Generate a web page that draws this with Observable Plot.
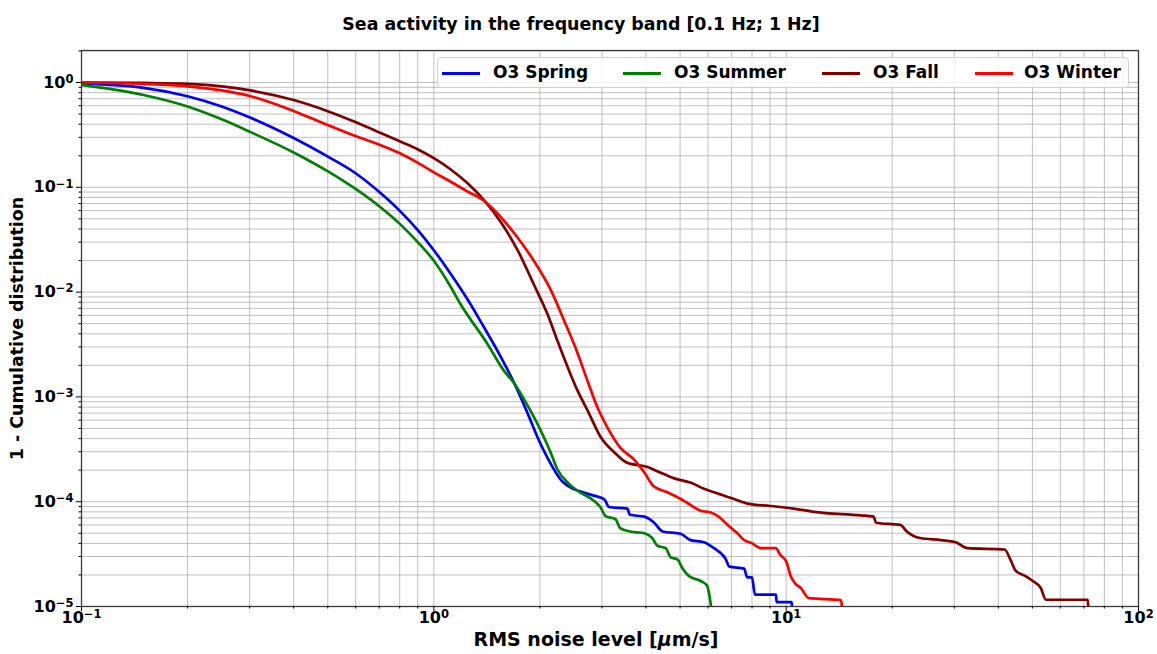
<!DOCTYPE html>
<html><head><meta charset="utf-8">
<script src="https://cdn.jsdelivr.net/npm/d3@7"></script>
<script src="https://cdn.jsdelivr.net/npm/@observablehq/plot@0.6"></script>
<style>
body{margin:0;background:#fff;font-family:"DejaVu Sans",sans-serif;}
#wrap{position:relative;width:1157px;height:654px;}
.ov{position:absolute;font-weight:bold;white-space:nowrap;color:#000;line-height:1;}
#legend{position:absolute;left:437px;top:57px;width:692px;height:31px;background:rgba(255,255,255,0.8);border:1px solid #d0d0d0;border-radius:4px;box-sizing:border-box;}
.sw{position:absolute;height:3px;top:72px;}
.lt{position:absolute;top:64px;font-size:17px;font-weight:bold;line-height:1;white-space:nowrap;}
</style></head><body><div id="wrap"></div>
<script>
const title = "Sea activity in the frequency band [0.1 Hz; 1 Hz]";
const xLabel = "RMS noise level [";
const yLabel = "1 - Cumulative distribution";
const seasons = ["O3 Spring", "O3 Summer", "O3 Fall", "O3 Winter"];
const colors = ["#0000ff", "#008000", "#800000", "#ff0000"];

const xMajor = [0.1, 1, 10, 100];
const xMajorLabels = ["10^−1", "10^0", "10^1", "10^2"];
const xMinor = [0.2,0.3,0.4,0.5,0.6,0.7,0.8,0.9, 2,3,4,5,6,7,8,9, 20,30,40,50,60,70,80,90];
const yMajor = [1e-5, 1e-4, 1e-3, 1e-2, 1e-1, 1];
const yMajorLabels = ["10^−5", "10^−4", "10^−3", "10^−2", "10^−1", "10^0"];
const yMinor = [2e-5,3e-5,4e-5,5e-5,6e-5,7e-5,8e-5,9e-5, 2e-4,3e-4,4e-4,5e-4,6e-4,7e-4,8e-4,9e-4,
  2e-3,3e-3,4e-3,5e-3,6e-3,7e-3,8e-3,9e-3, 2e-2,3e-2,4e-2,5e-2,6e-2,7e-2,8e-2,9e-2,
  0.2,0.3,0.4,0.5,0.6,0.7,0.8,0.9, 2];

const springX = [0.1,0.15,0.2,0.25,0.302,0.4,0.502,0.604,0.707,0.806,0.899,1.0,1.117,1.27,1.36,1.55,1.69,1.845,1.97,2.10,2.32,2.47,2.65,2.88,3.05,3.14,3.54,3.6,3.96,4.22,4.46,5.02,5.35,5.84,6.24,6.73,6.9,7.6,7.75,8.0,8.15,9.35,9.4,10.35,10.4];
const springY = [0.975,0.89,0.74,0.59,0.46,0.295,0.195,0.134,0.0877,0.0583,0.0392,0.0251,0.0149,0.0077,0.0052,0.0024,0.00136,0.0007,0.00041,0.000264,0.000155,0.000134,0.000123,0.000113,0.000105,8.9e-5,8.6e-5,7.5e-5,7.2e-5,6.3e-5,5.2e-5,4.95e-5,4.3e-5,4.1e-5,3.6e-5,2.85e-5,2.4e-5,2.3e-5,1.9e-5,1.9e-5,1.3e-5,1.3e-5,1.1e-5,1.1e-5,1e-5];

const summerX = [0.1,0.15,0.2,0.25,0.302,0.4,0.502,0.604,0.707,0.806,0.899,1.0,1.117,1.19,1.42,1.58,1.69,1.845,2.01,2.15,2.24,2.42,2.6,2.78,2.97,3.07,3.28,3.38,3.6,3.96,4.17,4.31,4.55,4.7,4.92,5.08,5.3,5.72,5.95,6.05,6.12];
const summerY = [0.95,0.76,0.59,0.445,0.336,0.215,0.141,0.0948,0.0641,0.0438,0.0301,0.0199,0.0112,0.0077,0.0032,0.00178,0.00135,0.00083,0.00048,0.00029,0.000205,0.000148,0.000123,0.000108,8.9e-5,7.3e-5,6.8e-5,5.6e-5,5.2e-5,5.0e-5,4.5e-5,3.8e-5,3.6e-5,2.95e-5,2.8e-5,2.3e-5,1.95e-5,1.75e-5,1.6e-5,1.3e-5,1e-5];

const fallX = [0.1,0.15,0.2,0.25,0.302,0.4,0.502,0.604,0.707,0.806,0.899,1.0,1.117,1.24,1.39,1.55,1.73,1.93,2.10,2.24,2.40,2.56,2.73,2.98,3.25,3.54,4.04,4.31,4.81,5.47,5.72,6.24,7.12,7.77,9.01,10.5,12.0,16.3,17.7,18.0,21.1,22.0,24.0,27.5,30.3,32.7,41.7,43.3,44.8,47.8,49.9,52.8,54.6,71.8,72.0];
const fallY = [1.0,0.99,0.97,0.92,0.84,0.68,0.53,0.415,0.33,0.272,0.231,0.19,0.148,0.111,0.075,0.0465,0.025,0.0115,0.0062,0.00347,0.00191,0.00114,0.000745,0.00041,0.000297,0.000235,0.000214,0.000195,0.000167,0.000148,0.000137,0.000123,0.000106,9.6e-5,9.1e-5,8.6e-5,8.0e-5,7.4e-5,7.2e-5,6.3e-5,6.0e-5,5.2e-5,4.5e-5,4.3e-5,4.1e-5,3.6e-5,3.5e-5,2.8e-5,2.2e-5,1.95e-5,1.77e-5,1.5e-5,1.16e-5,1.16e-5,1e-5];

const winterX = [0.1,0.15,0.2,0.25,0.302,0.4,0.502,0.604,0.707,0.806,0.899,1.0,1.117,1.24,1.39,1.55,1.73,1.93,2.15,2.34,2.56,2.73,2.91,3.11,3.39,3.70,3.95,4.2,4.60,5.02,5.30,5.72,6.11,6.43,6.82,7.27,7.6,8.0,8.48,9.34,9.63,10.0,10.3,10.6,11.0,11.6,14.3,14.4];
const winterY = [1.0,0.97,0.92,0.84,0.74,0.535,0.39,0.305,0.252,0.209,0.172,0.139,0.113,0.092,0.074,0.052,0.033,0.0195,0.0104,0.0054,0.0026,0.00142,0.0008,0.00051,0.000325,0.000252,0.000192,0.000141,0.000123,0.000106,9.5e-5,8.2e-5,7.9e-5,7.2e-5,6.0e-5,5.0e-5,4.3e-5,4.0e-5,3.6e-5,3.6e-5,3.1e-5,2.7e-5,1.95e-5,1.66e-5,1.5e-5,1.2e-5,1.15e-5,1e-5];

const seriesX = [springX, summerX, fallX, winterX];
const seriesY = [springY, summerY, fallY, winterY];
const rows = seasons.map((s, k) => seriesX[k].map((x, i) => ({season: s, x, y: seriesY[k][i]})));

const tickText = {fontSize: 16, fontWeight: "bold", fill: "#000"};
const chart = Plot.plot({
  width: 1157, height: 654,
  marginLeft: 81, marginRight: 19, marginTop: 50, marginBottom: 48,
  style: {fontFamily: "DejaVu Sans", background: "#fff", overflow: "visible"},
  x: {type: "log", domain: [0.1, 100]},
  y: {type: "log", domain: [1e-5, 2.02]},
  color: {domain: seasons, range: colors},
  marks: [
    Plot.gridX(xMinor, {stroke: "#b0b0b0", strokeOpacity: 1, strokeWidth: 0.8}),
    Plot.gridX(xMajor, {stroke: "#b0b0b0", strokeOpacity: 1, strokeWidth: 0.8}),
    Plot.gridY(yMinor, {stroke: "#b0b0b0", strokeOpacity: 1, strokeWidth: 0.8}),
    Plot.gridY(yMajor, {stroke: "#b0b0b0", strokeOpacity: 1, strokeWidth: 0.8}),
    ...rows.map(r => Plot.line(r, {x: "x", y: "y", stroke: "season", strokeWidth: 2.7, clip: true, curve: "monotone-x", strokeLinejoin: "round"})),
    Plot.frame({stroke: "#3a3a3a", strokeWidth: 1.3}),
    Plot.axisX(xMajor, {tickFormat: (d) => xMajorLabels[xMajor.indexOf(d)], tickSize: 5, tickPadding: 0, label: null, ...tickText}),
    Plot.axisX(xMinor, {tickFormat: () => "", tickSize: 2.5, label: null}),
    Plot.axisY(yMajor, {tickFormat: (d) => yMajorLabels[yMajor.indexOf(d)], tickSize: 5, tickPadding: 3, label: null, ...tickText}),
    Plot.axisY(yMinor, {tickFormat: () => "", tickSize: 2.5, label: null}),
    Plot.text([yLabel], {text: d => d, frameAnchor: "left", textAnchor: "middle", dx: -64, rotate: -90, fontSize: 17.4, fontWeight: "bold", fill: "#000"})
  ]
});

// render 10^n labels with real superscripts
const ns = "http://www.w3.org/2000/svg";
chart.querySelectorAll("text").forEach(t => {
  const m = t.textContent.match(/^10\^(.+)$/);
  if (!m) return;
  while (t.firstChild) t.removeChild(t.firstChild);
  const a = document.createElementNS(ns, "tspan"); a.textContent = "10"; t.appendChild(a);
  const b = document.createElementNS(ns, "tspan");
  b.setAttribute("dy", "-0.42em"); b.setAttribute("font-size", "0.72em");
  b.textContent = m[1]; t.appendChild(b);
});

const wrap = document.getElementById("wrap");
wrap.appendChild(chart);

const t = document.createElement("div");
t.className = "ov"; t.textContent = title;
t.style.cssText = "left:581px;top:16px;font-size:17.4px;transform:translateX(-50%);";
wrap.appendChild(t);

const xl = document.createElement("div");
xl.className = "ov";
xl.innerHTML = xLabel + "<i>μ</i>m/s]";
xl.style.cssText = "left:596px;top:630px;font-size:19px;transform:translateX(-50%);";
wrap.appendChild(xl);

const lg = document.createElement("div"); lg.id = "legend"; wrap.appendChild(lg);
const swX = [442, 623, 822, 975];
const txX = [493, 674, 873, 1024];
seasons.forEach((s, i) => {
  const sw = document.createElement("div"); sw.className = "sw";
  sw.style.left = swX[i] + "px"; sw.style.width = "38px"; sw.style.background = colors[i];
  wrap.appendChild(sw);
  const lt = document.createElement("div"); lt.className = "lt";
  lt.style.left = txX[i] + "px"; lt.textContent = s;
  wrap.appendChild(lt);
});
</script></body></html>
